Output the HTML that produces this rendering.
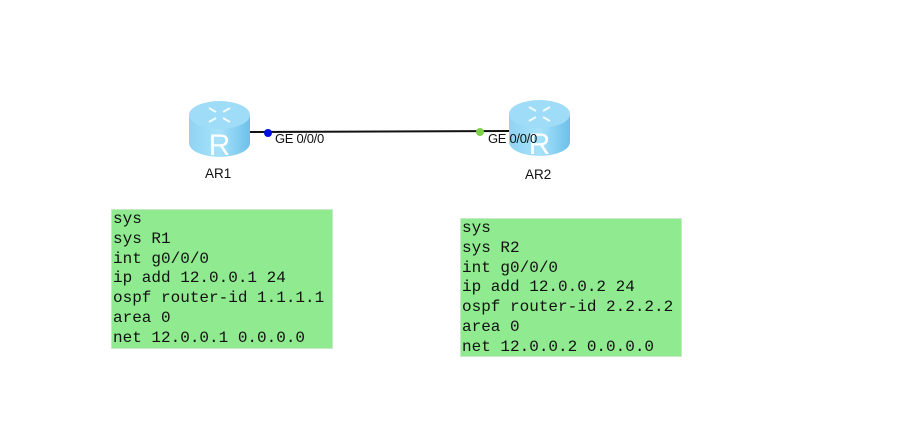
<!DOCTYPE html>
<html><head><meta charset="utf-8"><style>
html,body{margin:0;padding:0;background:#fff;width:904px;height:435px;overflow:hidden;position:relative}
.box{position:absolute;background:#90ea90;border:1px solid #c8e8c8;font-family:"Liberation Mono",monospace;font-size:16px;line-height:19.8px;color:#111;padding:0 0 0 1px;box-sizing:border-box;white-space:pre}
.lbl{position:absolute;font-family:"Liberation Sans",sans-serif;font-size:13.5px;color:#111}
.ge{position:absolute;font-family:"Liberation Sans",sans-serif;font-size:13px;color:#111;letter-spacing:-0.3px}
</style></head><body>
<svg width="904" height="435" style="position:absolute;left:0;top:0">
<defs>
<linearGradient id="g" x1="0" x2="1" y1="0" y2="0">
<stop offset="0" stop-color="#8fd3f2"/><stop offset="0.5" stop-color="#a8e2fa"/><stop offset="1" stop-color="#6cc0ea"/>
</linearGradient>
<g id="r">
<path d="M0,14 L0,42 A30.5,14 0 0 0 61,42 L61,14 Z" fill="url(#g)"/>
<ellipse cx="30.5" cy="14" rx="30.5" ry="14" fill="#9fdcf7"/>
<g stroke="#fff" stroke-width="2" fill="none" opacity="0.85">
<path d="M20,7 l7,4 M41,7 l-7,4 M20,21 l7,-4 M41,21 l-7,-4"/>
</g>
<text x="30.5" y="54" font-family="Liberation Sans,sans-serif" font-size="30" fill="#fff" text-anchor="middle">R</text>
</g>
</defs>
<line x1="250" y1="132" x2="510" y2="131" stroke="#111" stroke-width="2"/>
<use href="#r" x="189" y="101"/>
<use href="#r" x="509" y="100"/>
<circle cx="268" cy="133" r="4" fill="#0010e0"/>
<circle cx="480" cy="132" r="4" fill="#7ed04a"/>
</svg>
<div class="ge" style="left:275px;top:131px">GE 0/0/0</div>
<div class="ge" style="left:488px;top:131px">GE 0/0/0</div>
<div class="lbl" style="left:205px;top:166px">AR1</div>
<div class="lbl" style="left:525px;top:167px">AR2</div>
<div class="box" style="left:111px;top:209px;width:222px;height:140px">sys
sys R1
int g0/0/0
ip add 12.0.0.1 24
ospf router-id 1.1.1.1
area 0
net 12.0.0.1 0.0.0.0</div>
<div class="box" style="left:460px;top:218px;width:222px;height:139px">sys
sys R2
int g0/0/0
ip add 12.0.0.2 24
ospf router-id 2.2.2.2
area 0
net 12.0.0.2 0.0.0.0</div>
</body></html>
